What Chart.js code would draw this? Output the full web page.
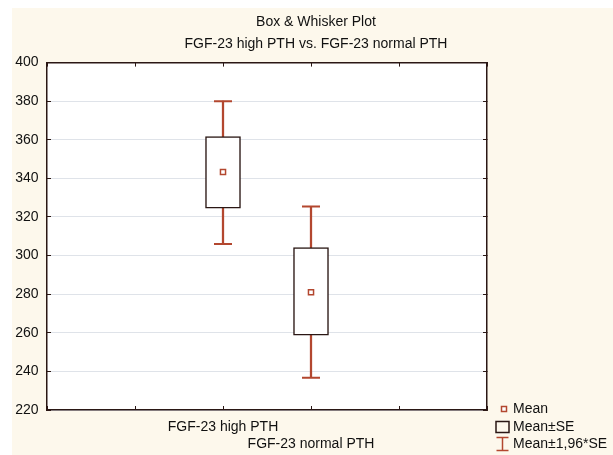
<!DOCTYPE html>
<html>
<head>
<meta charset="utf-8">
<script src="https://cdn.jsdelivr.net/npm/chart.js@4/dist/chart.umd.min.js"></script>
<style>
  html, body { margin: 0; padding: 0; background: #ffffff; overflow: hidden; }
  #wrap { position: absolute; left: 12px; top: 8px; width: 608px; height: 447px; background: #fdf8ec; }
</style>
</head>
<body>
<div id="wrap"><canvas id="myChart" width="608" height="447"></canvas></div>
<script>
// values
const categories = ['FGF-23 high PTH', 'FGF-23 normal PTH'];
const means = [343.3, 281.0];
const seLow = [324.6, 258.8];
const seHigh = [361.7, 304.1];
const ciLow = [306.0, 236.7];
const ciHigh = [380.0, 325.5];
const yMin = 220, yMax = 400, yStep = 20;
const legendLabels = ['Mean', 'Mean\u00b1SE', 'Mean\u00b11,96*SE'];

const red = '#b3472f';
const dark = '#2a1714';
const xPos = categories.map((c, i) => i + 2);

Chart.defaults.font.family = '"Liberation Sans", Arial, sans-serif';
Chart.defaults.font.size = 14;
Chart.defaults.color = '#111';

const whiskers = categories.map((c, i) => ({ x: xPos[i], y: [ciLow[i], ciHigh[i]] }));
const boxes = categories.map((c, i) => ({ x: xPos[i], y: [seLow[i], seHigh[i]] }));
const caps = categories.flatMap((c, i) => [{ x: xPos[i], y: ciLow[i] }, { x: xPos[i], y: ciHigh[i] }]);
const meanPts = categories.map((c, i) => ({ x: xPos[i], y: means[i] }));

const plotBg = {
  id: 'plotBg',
  beforeDraw(chart) {
    const a = chart.chartArea, ctx = chart.ctx;
    ctx.save();
    ctx.fillStyle = '#ffffff';
    ctx.fillRect(a.left, a.top, a.right - a.left, a.bottom - a.top);
    ctx.restore();
  }
};

const boxLegend = {
  id: 'boxLegend',
  afterDraw(chart) {
    const ctx = chart.ctx;
    const x0 = chart.chartArea.right + 8;
    const tx = x0 + 18;
    const rows = [401, 419, 436];
    ctx.save();
    ctx.font = '14px "Liberation Sans", Arial, sans-serif';
    ctx.fillStyle = '#111';
    ctx.textBaseline = 'middle';
    legendLabels.forEach((t, i) => ctx.fillText(t, tx, rows[i]));
    // mean marker
    ctx.lineWidth = 1.5;
    ctx.strokeStyle = red;
    ctx.fillStyle = '#fff';
    ctx.fillRect(x0 + 6.5, rows[0] - 2.5, 5, 5);
    ctx.strokeRect(x0 + 6.5, rows[0] - 2.5, 5, 5);
    // box
    ctx.strokeStyle = dark;
    ctx.strokeRect(x0 + 1, rows[1] - 5.5, 13, 11);
    // whisker
    ctx.strokeStyle = red;
    ctx.beginPath();
    ctx.moveTo(x0 + 1.5, rows[2] - 6.5); ctx.lineTo(x0 + 13.5, rows[2] - 6.5);
    ctx.moveTo(x0 + 7.5, rows[2] - 6.5); ctx.lineTo(x0 + 7.5, rows[2] + 6.5);
    ctx.moveTo(x0 + 1.5, rows[2] + 6.5); ctx.lineTo(x0 + 13.5, rows[2] + 6.5);
    ctx.stroke();
    ctx.restore();
  }
};

const ctx = document.getElementById('myChart').getContext('2d');
new Chart(ctx, {
  type: 'bar',
  data: {
    datasets: [
      { type: 'bar', data: whiskers, backgroundColor: red, borderWidth: 0, barThickness: 1.6, grouped: false, order: 4 },
      { type: 'bar', data: boxes, backgroundColor: '#ffffff', borderColor: dark, borderWidth: 1.5, borderSkipped: false, barThickness: 35, grouped: false, order: 3 },
      { type: 'scatter', data: caps, pointStyle: 'line', pointRadius: 9, borderColor: red, borderWidth: 2, order: 2 },
      { type: 'scatter', data: meanPts, pointStyle: 'rect', pointRadius: 3.6, borderColor: red, backgroundColor: '#fff', borderWidth: 1.5, order: 1 }
    ]
  },
  options: {
    responsive: false,
    animation: false,
    layout: { padding: 0 },
    plugins: {
      legend: { display: false },
      tooltip: { enabled: false },
      title: { display: true, text: 'Box & Whisker Plot', font: { size: 14, weight: 'normal' }, color: '#111', padding: { top: 6, bottom: 5 } },
      subtitle: { display: true, text: 'FGF-23 high PTH vs. FGF-23 normal PTH', font: { size: 14 }, color: '#111', padding: { top: 0, bottom: 0 } }
    },
    scales: {
      x: {
        type: 'linear', position: 'bottom', min: 0, max: 5, offset: false,
        grid: { drawOnChartArea: false, offset: false, tickLength: -4, tickColor: dark, lineWidth: 1 },
        border: { color: dark, width: 1.5 },
        ticks: {
          stepSize: 1, autoSkip: false, maxRotation: 0, padding: 12,
          font: { lineHeight: 1.25 },
          callback: (v) => {
            const i = xPos.indexOf(v);
            if (i < 0) return '';
            return i % 2 ? ['', categories[i]] : categories[i];
          }
        },
        afterFit: (s) => { s.height = 45; }
      },
      x2: {
        type: 'linear', position: 'top', min: 0, max: 5, offset: false,
        grid: { drawOnChartArea: false, offset: false, tickLength: -4, tickColor: dark },
        border: { color: dark, width: 1.5 },
        ticks: { display: false, stepSize: 1 },
        afterFit: (s) => { s.height = 10; }
      },
      y: {
        position: 'left', min: yMin, max: yMax,
        grid: { color: '#dfe3e9', lineWidth: 1, tickLength: -4, tickColor: dark },
        border: { color: dark, width: 1.5 },
        ticks: { stepSize: yStep, padding: 12.5 },
        afterFit: (s) => { s.width = 35; }
      },
      y2: {
        position: 'right', min: yMin, max: yMax,
        grid: { drawOnChartArea: false, tickLength: -4, tickColor: dark },
        border: { color: dark, width: 1.5 },
        ticks: { display: false, stepSize: yStep },
        afterFit: (s) => { s.width = 133; }
      }
    }
  },
  plugins: [plotBg, boxLegend]
});
</script>
</body>
</html>
